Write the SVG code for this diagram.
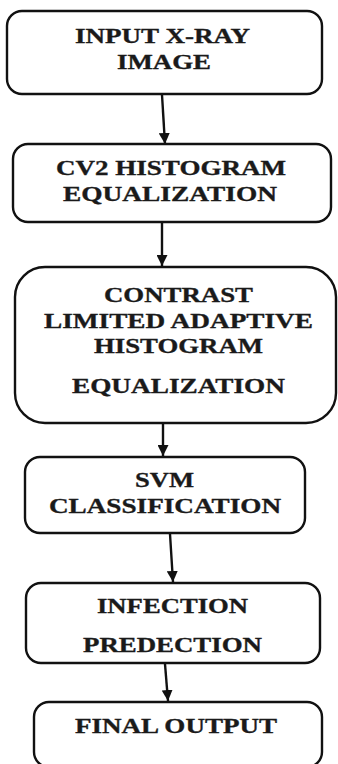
<svg xmlns="http://www.w3.org/2000/svg" width="338" height="764" viewBox="0 0 338 764">
  <style>
    .box { fill: #ffffff; stroke: #111111; stroke-width: 2.4; }
    .lbl { font-family: "Liberation Serif", "DejaVu Serif", "Times New Roman", serif; font-weight: bold; font-size: 22px; fill: #1a1a1a; stroke: #1a1a1a; stroke-width: 0.35; }
    .edge { stroke: #111111; stroke-width: 2.4; fill: none; marker-end: url(#head); }
  </style>
  <defs>
    <marker id="head" viewBox="0 0 10 10" refX="10" refY="5" markerWidth="11" markerHeight="11" markerUnits="userSpaceOnUse" orient="auto">
      <path d="M0,0 L10,5 L0,10 Z" fill="#111111"/>
    </marker>
  </defs>
  <rect width="338" height="764" fill="#ffffff"/>

  <g id="connectors">
    <line class="edge" x1="162" y1="95" x2="165" y2="144"/>
    <line class="edge" x1="162" y1="223" x2="162" y2="266"/>
    <line class="edge" x1="163" y1="424" x2="163" y2="456"/>
    <line class="edge" x1="170" y1="534" x2="173" y2="582"/>
    <line class="edge" x1="165" y1="664" x2="168" y2="701"/>
  </g>

  <g id="input">
    <rect class="box" x="7" y="11" width="315" height="83" rx="15"/>
    <text class="lbl" x="75" y="43" textLength="175" lengthAdjust="spacingAndGlyphs">INPUT X-RAY</text>
    <text class="lbl" x="117" y="69" textLength="94" lengthAdjust="spacingAndGlyphs">IMAGE</text>
  </g>

  <g id="histeq">
    <rect class="box" x="13" y="144" width="318" height="78" rx="15"/>
    <text class="lbl" x="56" y="175" textLength="230" lengthAdjust="spacingAndGlyphs">CV2 HISTOGRAM</text>
    <text class="lbl" x="63" y="201" textLength="214" lengthAdjust="spacingAndGlyphs">EQUALIZATION</text>
  </g>

  <g id="clahe">
    <rect class="box" x="15" y="267" width="321" height="156" rx="30"/>
    <text class="lbl" x="104" y="302" textLength="149" lengthAdjust="spacingAndGlyphs">CONTRAST</text>
    <text class="lbl" x="44" y="328" textLength="269" lengthAdjust="spacingAndGlyphs">LIMITED ADAPTIVE</text>
    <text class="lbl" x="94" y="353" textLength="169" lengthAdjust="spacingAndGlyphs">HISTOGRAM</text>
    <text class="lbl" x="72" y="393" textLength="213" lengthAdjust="spacingAndGlyphs">EQUALIZATION</text>
  </g>

  <g id="svm">
    <rect class="box" x="25" y="457" width="280" height="76" rx="15"/>
    <text class="lbl" x="135" y="487" textLength="59" lengthAdjust="spacingAndGlyphs">SVM</text>
    <text class="lbl" x="49" y="513" textLength="232" lengthAdjust="spacingAndGlyphs">CLASSIFICATION</text>
  </g>

  <g id="prediction">
    <rect class="box" x="26" y="583" width="294" height="80" rx="15"/>
    <text class="lbl" x="97" y="613" textLength="151" lengthAdjust="spacingAndGlyphs">INFECTION</text>
    <text class="lbl" x="83" y="652" textLength="179" lengthAdjust="spacingAndGlyphs">PREDECTION</text>
  </g>

  <g id="output">
    <rect class="box" x="34" y="702" width="288" height="65" rx="15"/>
    <text class="lbl" x="75" y="733" textLength="202" lengthAdjust="spacingAndGlyphs">FINAL OUTPUT</text>
  </g>
</svg>
